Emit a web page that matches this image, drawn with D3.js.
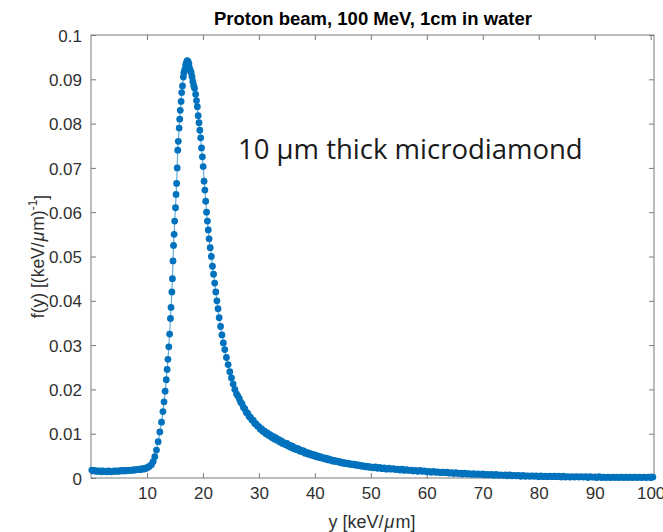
<!DOCTYPE html>
<html lang="en">
<head>
<meta charset="utf-8">
<style>
    body {
        margin: 0;
        padding: 0;
        background: #fff;
    }
    svg {
        display: block;
        font-family: "Liberation Sans", Arial, sans-serif;
    }
    .tick text {
        fill: #303030;
        font-size: 17px;
    }
    .tick line {
        stroke: #7a7a7a;
    }
</style>
</head>
<body>
<script src="https://d3js.org/d3.v7.min.js" charset="utf-8"></script>
<script>
// [y (keV/um), f(y)] pairs, one array per stretch of the curve
var baseline = [[0.15, 0.0018], [0.4, 0.0016], [0.65, 0.0017], [0.9, 0.0015], [1.15, 0.0016], [1.4, 0.0015], [1.65, 0.0016], [1.9, 0.0014],
    [2.15, 0.0016], [2.4, 0.0015], [2.65, 0.0015], [2.9, 0.0014], [3.15, 0.0016], [3.4, 0.0015], [3.65, 0.0014], [3.9, 0.0015],
    [4.15, 0.0016], [4.4, 0.0015], [4.65, 0.0016], [4.9, 0.0015], [5.15, 0.0016], [5.4, 0.0017], [5.65, 0.0016], [5.9, 0.0017],
    [6.15, 0.0016], [6.4, 0.0017], [6.65, 0.0018], [6.9, 0.0017], [7.15, 0.0018], [7.4, 0.0017], [7.65, 0.0019], [7.9, 0.0018],
    [8.15, 0.0019], [8.4, 0.0019], [8.65, 0.0020], [8.9, 0.0019], [9.15, 0.0021], [9.4, 0.0020], [9.65, 0.0022], [9.9, 0.0022],
    [10.15, 0.0024]];

var peak = [[10.4, 0.0026], [10.8, 0.0030], [11.1, 0.0037], [11.4, 0.0048], [11.7, 0.0063], [12.0, 0.0082], [12.3, 0.0104], [12.6, 0.0126],
    [12.85, 0.0150], [13.05, 0.0172], [13.25, 0.0196], [13.45, 0.0222], [13.6, 0.0245], [13.75, 0.0268], [13.9, 0.0296], [14.05, 0.0325],
    [14.2, 0.0360], [14.3, 0.0385], [14.45, 0.0420], [14.55, 0.0450], [14.65, 0.0490], [14.75, 0.0525], [14.85, 0.0550], [14.95, 0.0580],
    [15.1, 0.0610], [15.2, 0.0640], [15.3, 0.0665], [15.4, 0.0700], [15.5, 0.0740], [15.6, 0.0760], [15.75, 0.0790], [15.85, 0.0810],
    [15.95, 0.0830], [16.1, 0.0850], [16.2, 0.0870], [16.35, 0.0885], [16.5, 0.0905], [16.6, 0.0915], [16.75, 0.0922], [16.9, 0.0932],
    [17.05, 0.0938], [17.2, 0.0942], [17.35, 0.0940], [17.5, 0.0935], [17.6, 0.0926], [17.75, 0.0920], [17.9, 0.0915], [18.05, 0.0906],
    [18.2, 0.0895], [18.35, 0.0886], [18.5, 0.0880], [18.7, 0.0866], [18.85, 0.0852], [19.0, 0.0838], [19.15, 0.0818], [19.3, 0.0802],
    [19.45, 0.0785], [19.6, 0.0768], [19.75, 0.0745], [19.9, 0.0725], [20.05, 0.0703], [20.2, 0.0670], [20.35, 0.0650], [20.5, 0.0625],
    [20.65, 0.0600], [20.8, 0.0580], [20.95, 0.0560], [21.1, 0.0540], [21.3, 0.0520], [21.5, 0.0500], [21.7, 0.0478], [21.9, 0.0460],
    [22.1, 0.0440], [22.3, 0.0420], [22.5, 0.0400], [22.7, 0.0382], [22.9, 0.0362], [23.15, 0.0342], [23.4, 0.0323], [23.65, 0.0305],
    [23.9, 0.0290], [24.2, 0.0272], [24.5, 0.0256], [24.8, 0.0240], [25.1, 0.0226], [25.4, 0.0212], [25.7, 0.0200]];

var tail = [[26.0, 0.0190], [26.25, 0.0185], [26.5, 0.0179], [26.75, 0.0171], [27.0, 0.0167], [27.25, 0.0159], [27.5, 0.0156], [27.75, 0.0148],
    [28.0, 0.0146], [28.25, 0.0139], [28.5, 0.0137], [28.75, 0.0131], [29.0, 0.0130], [29.25, 0.0123], [29.5, 0.0122], [29.75, 0.0117],
    [30.0, 0.0116], [30.25, 0.0110], [30.5, 0.0111], [30.75, 0.0105], [31.0, 0.0106], [31.25, 0.0100], [31.5, 0.0102], [31.75, 0.0096],
    [32.0, 0.0098], [32.25, 0.0092], [32.5, 0.0094], [32.75, 0.0088], [33.0, 0.0091], [33.25, 0.0085], [33.5, 0.0087], [33.75, 0.0081],
    [34.0, 0.0084], [34.25, 0.0078], [34.5, 0.0080], [34.75, 0.0075], [35.0, 0.0078], [35.25, 0.0072], [35.5, 0.0074], [35.75, 0.0069],
    [36.0, 0.0072], [36.25, 0.0066], [36.5, 0.0068], [36.75, 0.0064], [37.0, 0.0066], [37.25, 0.0061], [37.5, 0.0063], [37.75, 0.0059],
    [38.0, 0.0061], [38.25, 0.0056], [38.5, 0.0058], [38.75, 0.0054], [39.0, 0.0056], [39.25, 0.0052], [39.5, 0.0054], [39.75, 0.0050],
    [40.0, 0.0052], [40.25, 0.0048], [40.5, 0.0050], [40.75, 0.0046], [41.0, 0.0048], [41.25, 0.0045], [41.5, 0.0046], [41.75, 0.0043],
    [42.0, 0.0045], [42.25, 0.0041], [42.5, 0.0043], [42.75, 0.0040], [43.0, 0.0041], [43.25, 0.0038], [43.5, 0.0040], [43.75, 0.0037],
    [44.0, 0.0038], [44.25, 0.0036], [44.5, 0.0037], [44.75, 0.0034], [45.0, 0.0035], [45.25, 0.0033], [45.5, 0.0034], [45.75, 0.0032],
    [46.0, 0.0033], [46.25, 0.0031], [46.5, 0.0032], [46.75, 0.0030], [47.0, 0.0031], [47.25, 0.0029], [47.5, 0.0030], [47.75, 0.0028],
    [48.0, 0.0029], [48.25, 0.0027], [48.5, 0.0028], [48.75, 0.0026], [49.0, 0.0027], [49.25, 0.0025], [49.5, 0.0026], [49.75, 0.0024],
    [50.0, 0.0025]];

var farTail = [[50.4, 0.0023], [50.8, 0.0025], [51.2, 0.0022], [51.6, 0.0024], [52.0, 0.0021], [52.4, 0.0023], [52.8, 0.0020], [53.2, 0.0022],
    [53.6, 0.0020], [54.0, 0.0021], [54.4, 0.0019], [54.8, 0.0020], [55.2, 0.0018], [55.6, 0.0020], [56.0, 0.0017], [56.4, 0.0019],
    [56.8, 0.0017], [57.2, 0.0018], [57.6, 0.0016], [58.0, 0.0017], [58.4, 0.0015], [58.8, 0.0017], [59.2, 0.0015], [59.6, 0.0016],
    [60.0, 0.0014], [60.4, 0.0015], [60.8, 0.0013], [61.2, 0.0015], [61.6, 0.0013], [62.0, 0.0014], [62.4, 0.0012], [62.8, 0.0013],
    [63.2, 0.0012], [63.6, 0.0013], [64.0, 0.0011], [64.4, 0.0012], [64.8, 0.0010], [65.2, 0.0012], [65.6, 0.0010], [66.0, 0.0011],
    [66.4, 0.0009], [66.8, 0.0011], [67.2, 0.0009], [67.6, 0.0010], [68.0, 0.0008], [68.4, 0.0010], [68.8, 0.0008], [69.2, 0.0009],
    [69.6, 0.0008], [70.0, 0.0009], [70.4, 0.0007], [70.8, 0.0008], [71.2, 0.0007], [71.6, 0.0008], [72.0, 0.0006], [72.4, 0.0008],
    [72.8, 0.0006], [73.2, 0.0007], [73.6, 0.0006], [74.0, 0.0007], [74.4, 0.0005], [74.8, 0.0007], [75.2, 0.0005], [75.6, 0.0006],
    [76.0, 0.0005], [76.4, 0.0006], [76.8, 0.0004], [77.2, 0.0006], [77.6, 0.0004], [78.0, 0.0005], [78.4, 0.0004], [78.8, 0.0005],
    [79.2, 0.0004], [79.6, 0.0005], [80.0, 0.0003], [80.4, 0.0005], [80.8, 0.0003], [81.2, 0.0004], [81.6, 0.0003], [82.0, 0.0004],
    [82.4, 0.0003], [82.8, 0.0004], [83.2, 0.0003], [83.6, 0.0004], [84.0, 0.0002], [84.4, 0.0004], [84.8, 0.0002], [85.2, 0.0003],
    [85.6, 0.0002], [86.0, 0.0003], [86.4, 0.0002], [86.8, 0.0003], [87.2, 0.0002], [87.6, 0.0003], [88.0, 0.0002], [88.4, 0.0003],
    [88.8, 0.0001], [89.2, 0.0003], [89.6, 0.0002], [90.0, 0.0002], [90.4, 0.0001], [90.8, 0.0003], [91.2, 0.0001], [91.6, 0.0002],
    [92.0, 0.0001], [92.4, 0.0002], [92.8, 0.0001], [93.2, 0.0002], [93.6, 0.0001], [94.0, 0.0002], [94.4, 0.0001], [94.8, 0.0002],
    [95.2, 0.0001], [95.6, 0.0002], [96.0, 0.0001], [96.4, 0.0002], [96.8, 0.0001], [97.2, 0.0002], [97.6, 0.0001], [98.0, 0.0002],
    [98.4, 0.0001], [98.8, 0.0002], [99.2, 0.0001], [99.6, 0.0002], [100.0, 0.0001], [100.4, 0.0002]];

var xTicks = [10, 20, 30, 40, 50, 60, 70, 80, 90, 100];
var yTicks = [0, 0.01, 0.02, 0.03, 0.04, 0.05, 0.06, 0.07, 0.08, 0.09, 0.1];
var yTickLabels = ['0', '0.01', '0.02', '0.03', '0.04', '0.05', '0.06', '0.07', '0.08', '0.09', '0.1'];

(function() {
    var width = 663, height = 532;
    var left = 91, right = 654, top = 35, bottom = 478;
    var blue = '#0072BD';

    var svg = d3.select('body').append('svg')
        .attr('width', width)
        .attr('height', height);

    var x = d3.scaleLinear().domain([0, 100.6]).range([left, right]);
    var y = d3.scaleLinear().domain([0, 0.1]).range([bottom, top]);

    var data = baseline.concat(peak, tail, farTail).map(function (p) {
        return { y: p[0], f: p[1] };
    });

    // frame with inward ticks on all four sides
    svg.append('rect')
        .attr('x', left).attr('y', top)
        .attr('width', right - left).attr('height', bottom - top)
        .attr('fill', 'none')
        .attr('stroke', '#7a7a7a');

    var fmtY = function (d, i) { return yTickLabels[i]; };

    var gx = svg.append('g').attr('transform', 'translate(0,' + bottom + ')')
        .call(d3.axisBottom(x).tickValues(xTicks).tickSizeInner(-5).tickSizeOuter(0).tickPadding(9));
    var gxt = svg.append('g').attr('transform', 'translate(0,' + top + ')')
        .call(d3.axisTop(x).tickValues(xTicks).tickSizeInner(-5).tickSizeOuter(0).tickFormat(''));
    var gy = svg.append('g').attr('transform', 'translate(' + left + ',0)')
        .call(d3.axisLeft(y).tickValues(yTicks).tickSizeInner(-5).tickSizeOuter(0).tickPadding(9).tickFormat(fmtY));
    var gyr = svg.append('g').attr('transform', 'translate(' + right + ',0)')
        .call(d3.axisRight(y).tickValues(yTicks).tickSizeInner(-5).tickSizeOuter(0).tickFormat(''));
    [gx, gxt, gy, gyr].forEach(function (g) {
        g.select('.domain').remove();
        g.attr('font-family', null).attr('font-size', null);
    });
    gy.selectAll('.tick text').attr('dy', '0.36em');

    // curve: thin line plus dot markers
    var line = d3.line()
        .x(function (d) { return x(d.y); })
        .y(function (d) { return y(d.f); });

    svg.append('path')
        .datum(data)
        .attr('d', line)
        .attr('fill', 'none')
        .attr('stroke', blue)
        .attr('stroke-opacity', 0.6)
        .attr('stroke-width', 1.2);

    svg.append('g').selectAll('circle')
        .data(data)
        .enter()
        .append('circle')
        .attr('cx', function (d) { return x(d.y); })
        .attr('cy', function (d) { return y(d.f); })
        .attr('r', 3.4)
        .attr('fill', blue);

    // title
    svg.append('text')
        .attr('x', 373)
        .attr('y', 25)
        .attr('text-anchor', 'middle')
        .attr('font-weight', 'bold')
        .attr('font-size', '18.5px')
        .attr('fill', '#000')
        .text('Proton beam, 100 MeV, 1cm in water');

    // x label
    var xl = svg.append('text')
        .attr('x', 372)
        .attr('y', 528)
        .attr('text-anchor', 'middle')
        .attr('font-size', '18px')
        .attr('fill', '#303030');
    xl.append('tspan').text('y [keV/');
    xl.append('tspan').attr('font-style', 'italic').attr('dx', '1').text('\u03bc');
    xl.append('tspan').attr('dx', '1').text('m]');

    // y label
    var yl = svg.append('text')
        .attr('transform', 'translate(44,' + ((top + bottom) / 2) + ') rotate(-90)')
        .attr('text-anchor', 'middle')
        .attr('font-size', '17.5px')
        .attr('fill', '#303030');
    yl.append('tspan').text('f(y) [(keV/');
    yl.append('tspan').attr('font-style', 'italic').attr('dx', '1').text('\u03bc');
    yl.append('tspan').attr('dx', '1').text('m)');
    yl.append('tspan').attr('dy', '-0.55em').attr('font-size', '12px').text('-1');
    yl.append('tspan').attr('dy', '0.55em').text(']');

    // annotation
    svg.append('text')
        .attr('x', 238)
        .attr('y', 159)
        .attr('font-family', '"Open Sans", "Noto Sans", sans-serif')
        .attr('font-size', '27.5px')
        .attr('fill', '#1a1a1a')
        .text('10 \u03bcm thick microdiamond');
})();
</script>
</body>
</html>
